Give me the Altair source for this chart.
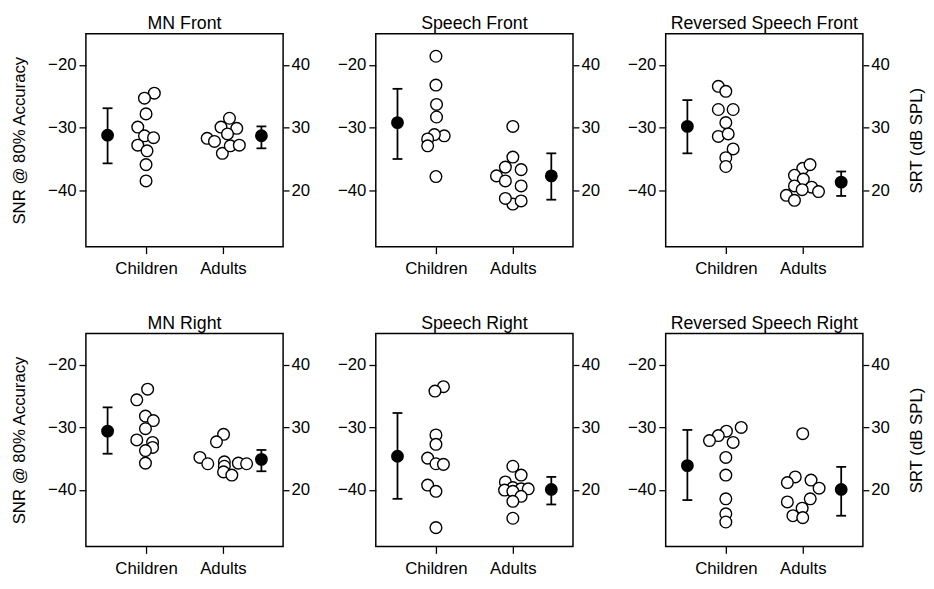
import altair as alt
import pandas as pd

FONT = "Liberation Sans"

panel_titles = ["MN Front", "Speech Front", "Reversed Speech Front",
                "MN Right", "Speech Right", "Reversed Speech Right"]
groups = ["Children", "Adults"]

# individual SNR (dB) values, with small horizontal jitter
children_snr = [
    [-24.5, -25.3, -27.8, -29.9, -31.3, -31.6, -32.8, -33.7, -35.9, -38.5],
    [-18.6, -23.2, -26.3, -28.3, -31.3, -31.1, -31.8, -32.9, -37.8],
    [-23.4, -24.2, -27.1, -27.1, -29.2, -31.4, -31.0, -33.4, -34.8, -36.2],
    [-23.9, -25.6, -28.2, -28.9, -30.2, -32.0, -32.4, -33.2, -33.7, -35.7],
    [-23.5, -24.2, -31.2, -32.7, -34.9, -35.8, -35.9, -39.2, -40.2, -46.0],
    [-30.0, -30.6, -31.3, -32.1, -32.4, -34.8, -37.6, -41.4, -43.8, -45.1],
]
children_jit = [
    [4.2, -0.8, 0.0, -4.2, -0.8, 3.8, -4.2, 0.5, 0.0, 0.0],
    [0.0, 0.0, 0.3, 0.3, 4.2, -0.8, -4.2, -4.2, 0.0],
    [-3.8, 0.0, -3.8, 3.7, 0.0, -3.8, 1.2, 3.7, 0.0, 0.0],
    [0.8, -4.7, -0.3, 3.7, -0.3, -4.7, 3.3, 3.3, -0.3, -0.3],
    [3.8, -0.5, 0.0, 0.0, -4.2, 0.0, 3.8, -4.2, 0.0, 0.0],
    [7.8, 0.3, -3.8, -8.3, 3.7, 0.0, 0.0, 0.0, 0.0, 0.0],
]
adults_snr = [
    [-31.7, -32.2, -34.1, -28.5, -29.9, -30.1, -31.0, -32.9, -32.8],
    [-42.2, -29.8, -34.7, -36.3, -36.7, -37.7, -38.5, -39.3, -41.3, -41.7],
    [-36.5, -35.9, -37.6, -38.2, -39.3, -39.5, -40.2, -39.9, -40.8, -41.6],
    [-31.1, -32.3, -34.8, -35.8, -35.5, -36.2, -37.1, -37.6, -35.7, -35.8],
    [-36.2, -37.6, -38.7, -39.6, -40.0, -39.8, -40.2, -39.8, -41.0, -41.8, -44.5],
    [-31.0, -37.9, -38.8, -38.4, -39.7, -41.4, -41.9, -42.9, -44.1, -44.4],
]
adults_jit = [
    [-8.0, -4.3, -0.3, 3.3, -1.0, 7.0, 2.3, 3.7, 8.3],
    [0.0, 0.0, 0.0, -3.8, 4.2, -8.3, -3.8, 4.2, -3.8, 4.2],
    [0.0, 3.7, -4.2, 0.3, -4.2, 4.5, 8.0, -0.3, -8.3, -4.2],
    [0.3, -3.3, -11.7, -7.7, 0.7, 0.7, 0.3, 4.5, 7.8, 12.0],
    [0.0, 4.2, -3.8, 0.0, -4.2, 4.2, 0.0, 7.8, 4.2, 0.0, 0.0],
    [0.0, -3.8, -7.8, 4.2, 8.3, 3.8, -7.8, -0.3, -5.0, 0.0],
]
# group means with error bars (children, adults)
mean_snr = [[-31.2, -31.3], [-29.2, -37.7], [-29.8, -38.7],
            [-30.6, -35.1], [-34.6, -39.9], [-36.1, -39.9]]
err_hi = [[-26.9, -29.8], [-23.8, -34.1], [-25.6, -37.0],
          [-26.8, -33.6], [-27.7, -37.9], [-30.4, -36.3]]
err_lo = [[-35.7, -33.3], [-35.0, -41.5], [-34.1, -40.9],
          [-34.2, -37.0], [-41.4, -42.3], [-41.6, -44.1]]

snr_ticks = [-40, -30, -20]
srt_ticks = [20, 30, 40]
srt_offset = 60  # SRT (dB SPL) = SNR + 60

group_x = [30.5, 69.5]
mean_x = [11, 89]

xscale = alt.Scale(domain=[0, 100], nice=False, zero=False)
yscale = alt.Scale(domain=[-49, -15], nice=False, zero=False)
srtscale = alt.Scale(domain=[-49 + srt_offset, -15 + srt_offset], nice=False, zero=False)

label_expr = "datum.value < 50 ? '%s' : '%s'" % (groups[0], groups[1])


def panel(i, left_title, right_title):
    rows = []
    for v, j in zip(children_snr[i], children_jit[i]):
        rows.append({"x": group_x[0] + j, "snr": v})
    for v, j in zip(adults_snr[i], adults_jit[i]):
        rows.append({"x": group_x[1] + j, "snr": v})
    pts = pd.DataFrame(rows)
    means = pd.DataFrame({"x": mean_x, "snr": mean_snr[i],
                          "lo": err_lo[i], "hi": err_hi[i],
                          "srt": [m + srt_offset for m in mean_snr[i]]})
    caps = pd.DataFrame({"x": mean_x + mean_x, "snr": err_lo[i] + err_hi[i]})

    xaxis = alt.Axis(values=group_x, labelExpr=label_expr, title=None, grid=False,
                     domain=False, tickSize=7, labelPadding=7)
    if left_title:
        laxis = alt.Axis(values=snr_ticks, title="SNR @ 80% Accuracy", grid=False,
                         domain=False, tickSize=7, labelPadding=3, titlePadding=19,
                         orient="left")
    else:
        laxis = alt.Axis(values=snr_ticks, title=None, grid=False,
                         domain=False, tickSize=7, labelPadding=3, orient="left")
    if right_title:
        raxis = alt.Axis(values=srt_ticks, title="SRT (dB SPL)", grid=False,
                         domain=False, tickSize=6, labelPadding=2, orient="right",
                         titleAngle=270, titleBaseline="top", titlePadding=20)
    else:
        raxis = alt.Axis(values=srt_ticks, title=None, grid=False,
                         domain=False, tickSize=6, labelPadding=2, orient="right")

    X = alt.X("x:Q", scale=xscale, axis=xaxis)

    open_pts = alt.Chart(pts).mark_point(
        shape="circle", filled=True, fill="white", stroke="black",
        strokeWidth=1.4, size=140, opacity=1, fillOpacity=1
    ).encode(x=X, y=alt.Y("snr:Q", scale=yscale, axis=laxis))

    rules = alt.Chart(means).mark_rule(color="black", strokeWidth=1.8).encode(
        x=alt.X("x:Q", scale=xscale),
        y=alt.Y("lo:Q", scale=yscale, axis=None), y2="hi:Q")

    cap = alt.Chart(caps).mark_tick(orient="horizontal", color="black",
                                    size=10, thickness=1.8, opacity=1).encode(
        x=alt.X("x:Q", scale=xscale),
        y=alt.Y("snr:Q", scale=yscale, axis=None))

    mpts = alt.Chart(means).mark_point(shape="circle", filled=True, color="black",
                                       size=170, opacity=1).encode(
        x=alt.X("x:Q", scale=xscale),
        y=alt.Y("snr:Q", scale=yscale, axis=None))

    right = alt.Chart(means).mark_point(opacity=0).encode(
        x=alt.X("x:Q", scale=xscale),
        y=alt.Y("srt:Q", scale=srtscale, axis=raxis))

    return alt.layer(open_pts, rules, cap, mpts, right).resolve_scale(
        y="independent").properties(
        width=200, height=216,
        title=alt.TitleParams(panel_titles[i], fontSize=18, font=FONT,
                              fontWeight="normal", color="black", offset=1))


row1 = alt.hconcat(panel(0, True, False), panel(1, False, False), panel(2, False, True),
                   spacing=26)
row2 = alt.hconcat(panel(3, True, False), panel(4, False, False), panel(5, False, True),
                   spacing=26)
chart = alt.vconcat(row1, row2, spacing=37).properties(
    background="white",
    padding={"left": 2, "top": 2, "right": 0, "bottom": 0}
).configure_view(
    stroke="black", strokeWidth=1.5
).configure_axis(
    labelFont=FONT, labelFontSize=17, labelColor="black",
    titleFont=FONT, titleFontSize=17, titleFontWeight="normal", titleColor="black",
    tickColor="black", tickWidth=1.3
)

chart.save("out.html", embed_options={"renderer": "svg", "actions": False})
